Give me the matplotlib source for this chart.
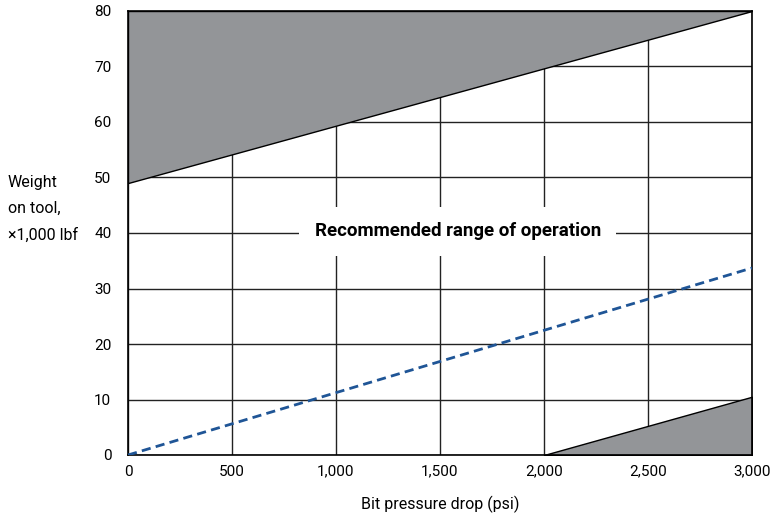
import matplotlib
matplotlib.use("Agg")
import matplotlib.pyplot as plt

plt.rcParams["font.family"] = ["Roboto", "DejaVu Sans"]

# data
upper_x = [0, 3000]
upper_y = [49, 80]
lower_x = [2000, 3000]
lower_y = [0, 10.5]
dash_x = [0, 3000]
dash_y = [0, 33.7]
xticks = [0, 500, 1000, 1500, 2000, 2500, 3000]
xlabels = ["0", "500", "1,000", "1,500", "2,000", "2,500", "3,000"]
yticks = [0, 10, 20, 30, 40, 50, 60, 70, 80]

gray = "#939598"

fig = plt.figure(figsize=(7.7, 5.19), dpi=100)
ax = fig.add_axes([128 / 770, 64 / 519, 624 / 770, 444 / 519])

ax.set_xlim(0, 3000)
ax.set_ylim(0, 80)
ax.set_xticks(xticks)
ax.set_xticklabels(xlabels)
ax.set_yticks(yticks)
ax.tick_params(length=0, labelsize=11, pad=7)
ax.tick_params(axis="y", pad=12)
ax.grid(True, color="#222222", linewidth=1.0)
ax.set_axisbelow(True)
for s in ax.spines.values():
    s.set_linewidth(1.2)

ax.fill_between(upper_x, upper_y, 80, facecolor=gray, edgecolor="black", linewidth=1.0, zorder=2)
ax.fill_between(lower_x, 0, lower_y, facecolor=gray, edgecolor="black", linewidth=1.0, zorder=2)
ax.plot(dash_x, dash_y, color="#1f5596", linestyle=(0, (3.3, 1.9)), linewidth=2, zorder=3)

ax.text(1585, 40.3, "Recommended range of operation", fontsize=13.5, fontweight="bold",
        ha="center", va="center", zorder=4,
        bbox=dict(facecolor="white", edgecolor="none", pad=11))

ax.set_xlabel("Bit pressure drop (psi)", fontsize=11.5, labelpad=12)
fig.text(8 / 770, 1 - 209 / 519, "Weight\non tool,\n\u00d71,000 lbf", fontsize=11.5,
         ha="left", va="center", linespacing=1.95)

fig.savefig("out.png", dpi=100)
